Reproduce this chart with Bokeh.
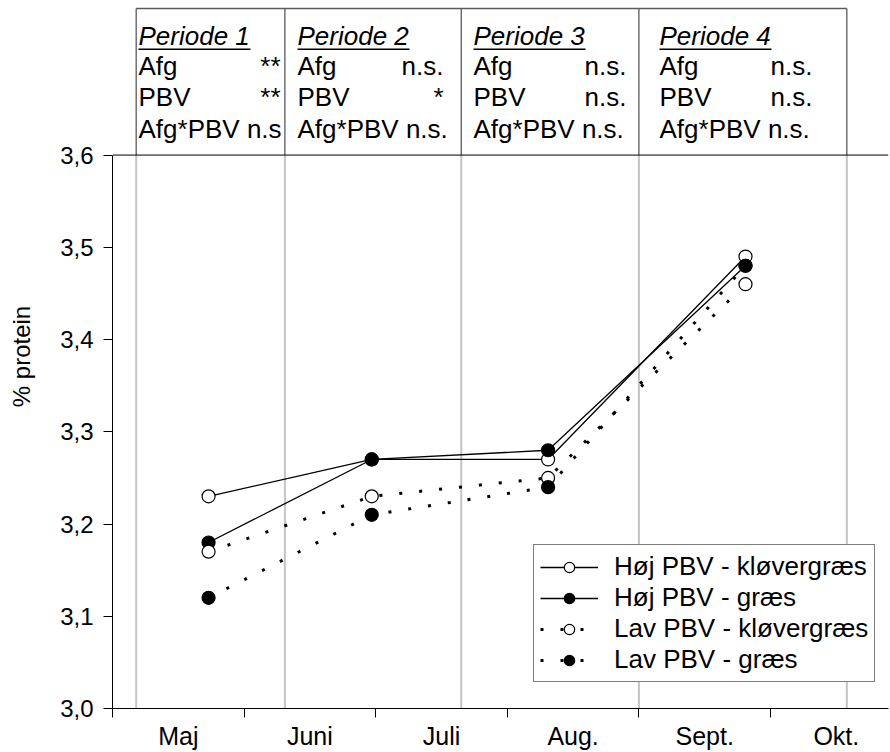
from bokeh.plotting import figure
from bokeh.models import (FixedTicker, Range1d, Legend, LegendItem, ColumnDataSource,
                          CustomJSTickFormatter)
from bokeh.core.properties import value
from bokeh.embed import file_html
from bokeh.resources import INLINE

# ---------------- data ----------------
months = ["Maj", "Juni", "Juli", "Aug.", "Sept.", "Okt."]
month_starts = [0, 1, 2, 3, 4, 5]            # months since 1 May
month_centers = [0.5, 1.5, 2.5, 3.5, 4.5, 5.5]
sample_x = [0.73, 1.97, 3.31, 4.81]           # sampling dates (months since 1 May)

hoj_klover = [3.23, 3.27, 3.27, 3.49]
hoj_graes = [3.18, 3.27, 3.28, 3.48]
lav_klover = [3.17, 3.23, 3.25, 3.46]
lav_graes = [3.12, 3.21, 3.24, 3.48]

series_names = ["Høj PBV - kløvergræs", "Høj PBV - græs",
                "Lav PBV - kløvergræs", "Lav PBV - græs"]

period_bounds = [0.18, 1.31, 2.65, 4.00, 5.58]
period_names = ["Periode 1", "Periode 2", "Periode 3", "Periode 4"]
afg_sig = ["**", "n.s.", "n.s.", "n.s."]
pbv_sig = ["**", "*", "n.s.", "n.s."]
inter_txt = ["Afg*PBV n.s", "Afg*PBV n.s.", "Afg*PBV n.s.", "Afg*PBV n.s."]

y_ticks = [3.0, 3.1, 3.2, 3.3, 3.4, 3.5, 3.6]

# ---------------- layout helpers ----------------
W, H = 890, 752
LEFT, RIGHT, TOP, BOTTOM = 112, 2, 4, 42
PX_PER_MONTH = 131.6
PX_PER_UNIT = 925.0
Y0 = 3.0
X_END = (W - LEFT - RIGHT) / PX_PER_MONTH
Y_END = Y0 + (H - TOP - BOTTOM) / PX_PER_UNIT


def ypx(py):
    """page pixel row -> data value (layout only)"""
    return Y0 + ((H - BOTTOM) - py) / PX_PER_UNIT


def xpx(px):
    return (px - LEFT) / PX_PER_MONTH


BOX_TOP = ypx(8)
text_left_x = [xpx(138), xpx(297), xpx(473), xpx(659)]
text_right_x = [xpx(280), xpx(443), xpx(626), xpx(812)]
underline_w = 112 / PX_PER_MONTH

FONT = "Liberation Sans"

p = figure(width=W, height=H, output_backend="svg", toolbar_location=None,
           x_range=Range1d(0, X_END), y_range=Range1d(Y0, Y_END),
           min_border_left=LEFT, min_border_right=RIGHT,
           min_border_top=TOP, min_border_bottom=BOTTOM)
p.outline_line_color = None
p.grid.visible = False
p.background_fill_color = "white"
p.border_fill_color = "white"

# ---------------- period lines & box ----------------
n = len(period_bounds)
p.segment(x0=period_bounds, y0=[Y0] * n, x1=period_bounds, y1=[y_ticks[-1]] * n,
          line_color="#c4c4c4", line_width=2)
p.segment(x0=period_bounds, y0=[y_ticks[-1]] * n, x1=period_bounds, y1=[BOX_TOP] * n,
          line_color="#5a5a5a", line_width=1.3)
p.segment(x0=[period_bounds[0]], y0=[BOX_TOP], x1=[period_bounds[-1]], y1=[BOX_TOP],
          line_color="#5a5a5a", line_width=1.3)
p.segment(x0=[0], y0=[y_ticks[-1]], x1=[X_END], y1=[y_ticks[-1]],
          line_color="black", line_width=1)

box = ColumnDataSource(dict(
    lx=text_left_x, rx=text_right_x, name=period_names,
    afg=afg_sig, pbv=pbv_sig, inter=inter_txt,
    ulx1=[x + underline_w for x in text_left_x],
))
fs = "26px"
SHIFT = 10
row_base = [46 - SHIFT, 76 - SHIFT, 107 - SHIFT, 139 - SHIFT]
p.text(x="lx", y=ypx(row_base[0]), text="name", source=box, text_font=value(FONT),
       text_font_size=fs, text_font_style="italic", text_baseline="alphabetic",
       text_color="black")
p.segment(x0="lx", y0=ypx(49), x1="ulx1", y1=ypx(49), source=box,
          line_color="black", line_width=1.5)
p.text(x="lx", y=ypx(row_base[1]), text=value("Afg"), source=box, text_font=value(FONT),
       text_font_size=fs, text_baseline="alphabetic", text_color="black")
p.text(x="rx", y=ypx(row_base[1]), text="afg", source=box, text_font=value(FONT),
       text_font_size=fs, text_baseline="alphabetic", text_align="right",
       text_color="black")
p.text(x="lx", y=ypx(row_base[2]), text=value("PBV"), source=box, text_font=value(FONT),
       text_font_size=fs, text_baseline="alphabetic", text_color="black")
p.text(x="rx", y=ypx(row_base[2]), text="pbv", source=box, text_font=value(FONT),
       text_font_size=fs, text_baseline="alphabetic", text_align="right",
       text_color="black")
p.text(x="lx", y=ypx(row_base[3]), text="inter", source=box, text_font=value(FONT),
       text_font_size=fs, text_baseline="alphabetic", text_color="black")

# ---------------- data series ----------------
solid = dict(line_color="black", line_width=1.3)
dotted = dict(line_color="black", line_width=3, line_dash="3 17")
specs = [
    (hoj_klover, solid, "white"),
    (hoj_graes, solid, "black"),
    (lav_klover, dotted, "white"),
    (lav_graes, dotted, "black"),
]
items = []
line_rs = []
for (vals, style, fill), name in zip(specs, series_names):
    lr = p.line(sample_x, vals, **style)
    line_rs.append((lr, vals, fill, name))
for lr, vals, fill, name in line_rs:
    sr = p.scatter(sample_x, vals, marker="circle", size=13, fill_color=fill,
                   line_color="black", line_width=1.2)
    items.append(LegendItem(label=name, renderers=[lr, sr]))

legend = Legend(items=items, location=(421, 26))
legend.border_line_color = "black"
legend.border_line_width = 1
legend.background_fill_color = "white"
legend.background_fill_alpha = 1
legend.label_text_font = FONT
legend.label_text_font_size = "26px"
legend.label_text_color = "black"
legend.label_text_line_height = 1.0
legend.glyph_width = 58
legend.glyph_height = 26
legend.label_height = 26
legend.label_standoff = 16
legend.spacing = 0
legend.padding = 6
legend.margin = 0
p.add_layout(legend)

# ---------------- axes ----------------
xa = p.xaxis[0]
xa.ticker = FixedTicker(ticks=month_centers, minor_ticks=month_starts)
xa.formatter = CustomJSTickFormatter(args=dict(labels=months),
                                     code="return labels[Math.floor(tick)] || '';")
xa.major_tick_line_color = None
xa.major_tick_out = 9
xa.major_tick_in = 0
xa.minor_tick_out = 9
xa.minor_tick_in = 0
xa.minor_tick_line_color = "black"
xa.axis_line_color = "black"
xa.major_label_text_font = FONT
xa.major_label_text_font_size = "25px"
xa.major_label_standoff = 4
xa.major_label_text_color = "black"

ya = p.yaxis[0]
ya.bounds = (Y0, y_ticks[-1])
ya.ticker = FixedTicker(ticks=y_ticks, minor_ticks=[])
ya.formatter = CustomJSTickFormatter(code="return tick.toFixed(1).replace('.', ',');")
ya.major_tick_out = 9
ya.major_tick_in = 0
ya.minor_tick_line_color = None
ya.axis_line_color = "black"
ya.major_label_text_font = FONT
ya.major_label_text_font_size = "24px"
ya.major_label_standoff = 10
ya.major_label_text_color = "black"
ya.axis_label = "% protein"
ya.axis_label_text_font = FONT
ya.axis_label_text_font_size = "24px"
ya.axis_label_text_font_style = "normal"
ya.axis_label_text_color = "black"
ya.axis_label_standoff = 22

open("out.html", "w").write(file_html(p, INLINE))
